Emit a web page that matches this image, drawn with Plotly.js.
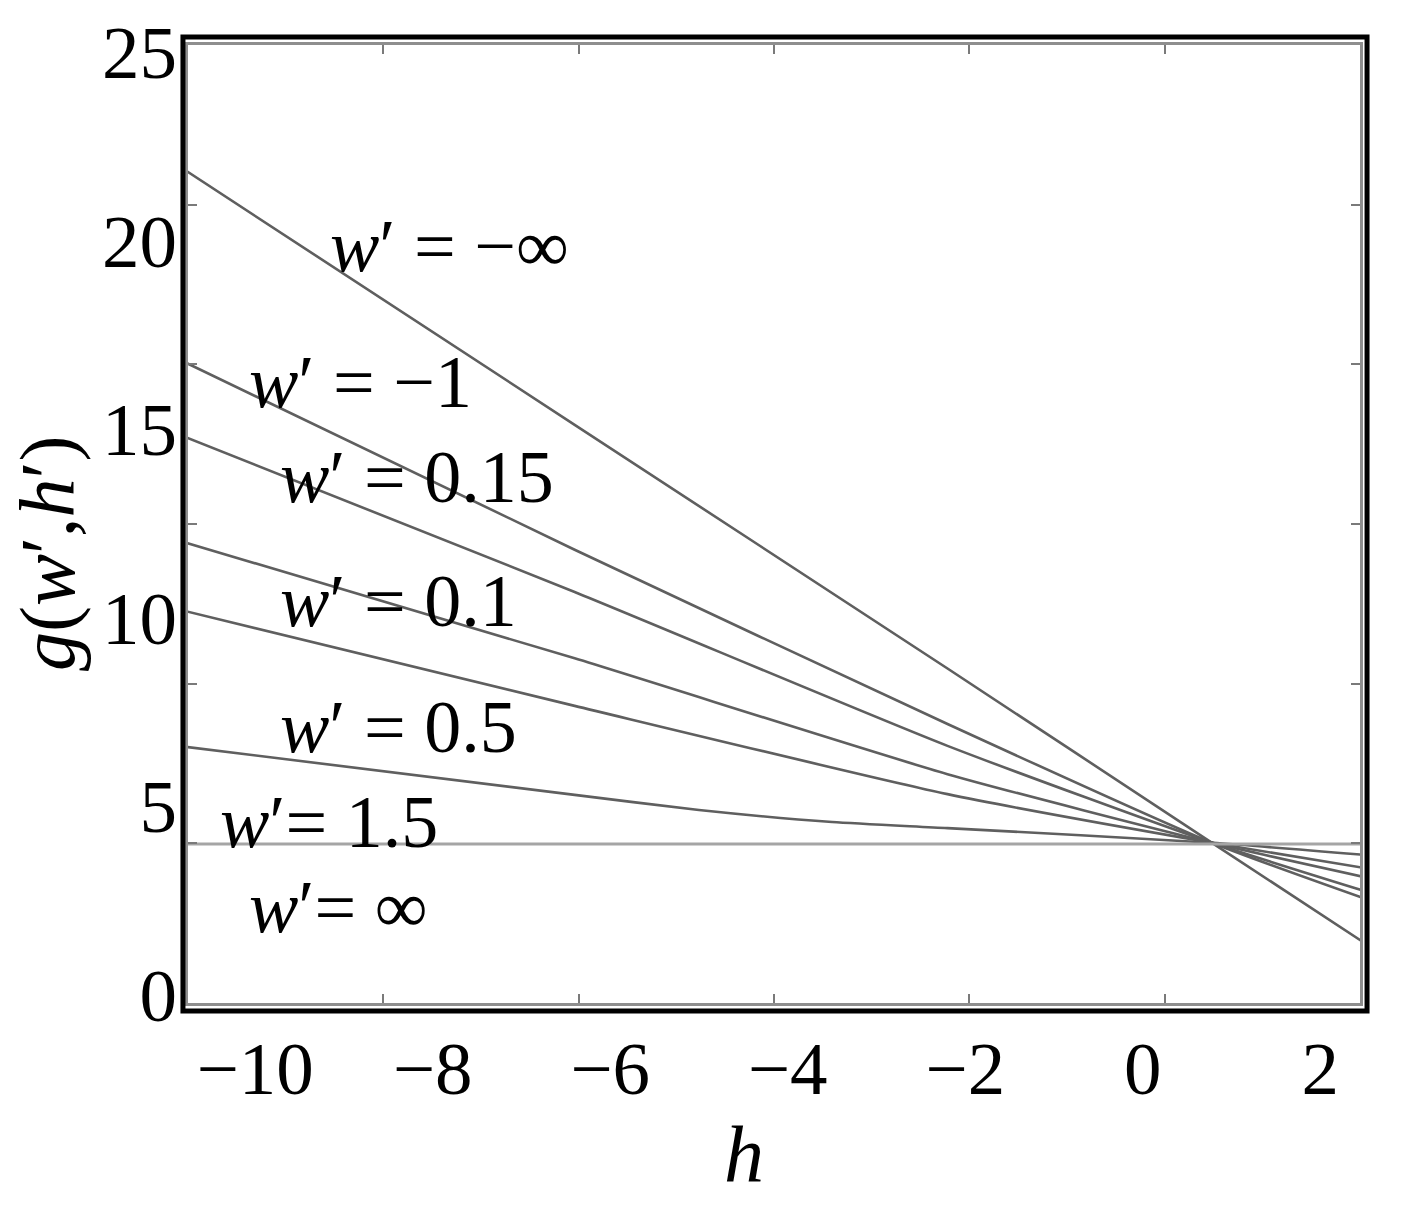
<!DOCTYPE html>
<html>
<head>
<meta charset="utf-8">
<script src="https://cdn.plot.ly/plotly-3.0.1.min.js"></script>
<style>html,body{margin:0;padding:0;background:#fff;}#chart{width:1402px;height:1214px;}</style>
</head>
<body>
<div id="chart"></div>
<script>
// ---- data ----
const hValues = [-10.8, -6.4, -2.2, 0.78, 2.5];
const hValuesCurved = [-10.8, -6.4, -5.0, -3.5, -2.2, 0.78, 2.5];
const hValuesFlat = [-10.8, 2.5];

const gMinusInf = [21.88, 15.11, 8.65, 4.03, 1.37];
const gMinus1   = [16.78, 11.80, 7.18, 4.03, 2.55];
const g015      = [14.80, 10.68, 6.60, 4.03, 2.75];
const g01       = [12.00, 8.92, 5.85, 4.03, 3.12];
const g05       = [10.18, 7.66, 5.32, 4.03, 3.36];
const g15       = [6.58, 5.30, 4.90, 4.58, 4.42, 4.03, 3.71];
const gInf      = [4.00, 4.00];

const seriesNames = ["w′ = −∞", "w′ = −1", "w′ = 0.15", "w′ = 0.1", "w′ = 0.5", "w′= 1.5", "w′= ∞"];
const labelTexts = ["<i>w</i>′ = −∞", "<i>w</i>′ = −1", "<i>w</i>′ = 0.15", "<i>w</i>′ = 0.1", "<i>w</i>′ = 0.5", "<i>w</i>′= 1.5", "<i>w</i>′= ∞"];

const xTickVals = [-10, -8, -6, -4, -2, 0, 2];
const xTickText = ["−10", "−8", "−6", "−4", "−2", "0", "2"];
const yTickVals = [0, 5, 10, 15, 20, 25];
const yTickText = ["0", "5", "10", "15", "20", "25"];

// ---- label placement (left edge x, centre y, in data units) ----
const labelX = [-9.18, -10.09, -9.74, -9.74, -9.74, -10.42, -10.09];
const labelY = [19.85, 16.25, 13.73, 10.44, 7.10, 4.58, 2.33];

const FONT = "'Liberation Serif', 'Times New Roman', serif";
const lineColor = "#5f5f5f";

const traces = [
  {x: hValues, y: gMinusInf, name: seriesNames[0]},
  {x: hValues, y: gMinus1, name: seriesNames[1]},
  {x: hValues, y: g015, name: seriesNames[2]},
  {x: hValues, y: g01, name: seriesNames[3]},
  {x: hValues, y: g05, name: seriesNames[4]},
  {x: hValuesCurved, y: g15, name: seriesNames[5]},
].map(t => Object.assign(t, {
  type: "scatter", mode: "lines",
  line: {color: lineColor, width: 2.6, shape: "spline", smoothing: 0.6},
  showlegend: false, hoverinfo: "x+y+name"
}));
traces.push({
  type: "scatter", mode: "lines", x: hValuesFlat, y: gInf, name: seriesNames[6],
  line: {color: "#a5a5a5", width: 3}, showlegend: false
});
// empty trace that carries the decorative inner tick frame
traces.push({type: "scatter", mode: "lines", x: [], y: [], xaxis: "x2", yaxis: "y2", showlegend: false, hoverinfo: "skip"});

const annotations = labelTexts.map((t, i) => ({
  x: labelX[i], y: labelY[i], xref: "x", yref: "y",
  text: t, showarrow: false, xanchor: "left", yanchor: "middle",
  font: {family: FONT, size: 74, color: "#000"}
}));

const layout = {
  width: 1402, height: 1214, autosize: false,
  paper_bgcolor: "#fff", plot_bgcolor: "#fff",
  margin: {l: 188, r: 42, t: 45, b: 211},
  font: {family: FONT, color: "#000"},
  xaxis: {
    range: [-10.756, 2.447], tickmode: "array", tickvals: xTickVals, ticktext: xTickText,
    ticks: "", showgrid: false, zeroline: false,
    showline: true, linecolor: "#8e8e8e", linewidth: 3, mirror: true,
    tickfont: {family: FONT, size: 75, color: "#000"}, ticklabelstandoff: -2,
    title: {text: "<i>h</i>&nbsp;&nbsp;&nbsp;", font: {family: FONT, size: 80, color: "#000"}, standoff: 5}
  },
  yaxis: {
    range: [-0.217, 25.18], tickmode: "array", tickvals: yTickVals, ticktext: yTickText,
    ticks: "", showgrid: false, zeroline: false,
    showline: true, linecolor: "#8e8e8e", linewidth: 3, mirror: true,
    tickfont: {family: FONT, size: 75, color: "#000"}, ticklabelstandoff: -7,
    title: {text: "<i>g</i>(<i>w</i>′,<i>h</i>′)&nbsp;&nbsp;&nbsp;", font: {family: FONT, size: 78, color: "#000"}, standoff: 2}
  },
  xaxis2: {
    overlaying: "x", anchor: "y2", range: [0, 6], tickmode: "array", tickvals: [1, 2, 3, 4, 5],
    ticks: "inside", ticklen: 9, tickwidth: 2, tickcolor: "#7a7a7a", mirror: "ticks",
    showticklabels: false, showgrid: false, zeroline: false, showline: false
  },
  yaxis2: {
    overlaying: "y", anchor: "x2", range: [0, 6], tickmode: "array", tickvals: [1, 2, 3, 4, 5],
    ticks: "inside", ticklen: 9, tickwidth: 2, tickcolor: "#7a7a7a", mirror: "ticks",
    showticklabels: false, showgrid: false, zeroline: false, showline: false
  },
  shapes: [
    {type: "rect", xref: "paper", yref: "paper", x0: -0.0043, x1: 1.006, y0: -0.0084, y1: 1.0084,
     line: {color: "#000", width: 5}, fillcolor: "rgba(0,0,0,0)", layer: "above"}
  ],
  annotations: annotations
};

Plotly.newPlot("chart", traces, layout, {displayModeBar: false, staticPlot: true});
</script>
</body>
</html>
